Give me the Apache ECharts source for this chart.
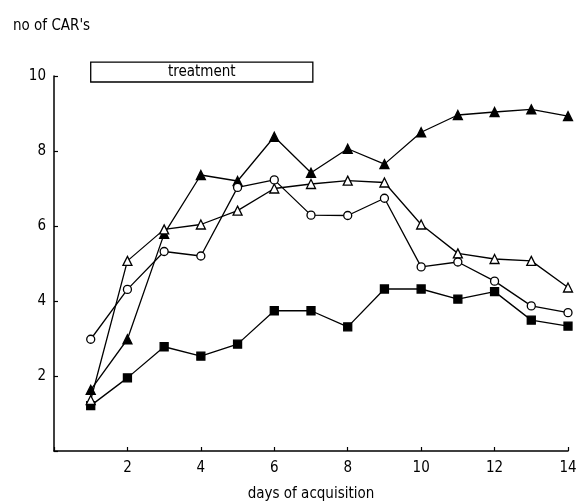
<!DOCTYPE html>
<html>
<head>
<meta charset="utf-8">
<script src="https://cdn.jsdelivr.net/npm/echarts@6/dist/echarts.min.js"></script>
<style>html,body{margin:0;padding:0;background:#fff}#c{width:576px;height:504px}</style>
</head>
<body>
<div id="c"></div>
<script>
const days = [1,2,3,4,5,6,7,8,9,10,11,12,13,14];
const filledTriangle = [1.63,2.98,5.79,7.36,7.2,8.38,7.42,8.06,7.65,8.5,8.96,9.04,9.11,8.93];
const openTriangle   = [1.36,5.07,5.91,6.04,6.41,7.0,7.12,7.21,7.16,6.04,5.27,5.12,5.07,4.36];
const openCircle     = [2.98,4.31,5.32,5.2,7.03,7.23,6.29,6.28,6.74,4.91,5.04,4.53,3.87,3.69];
const filledSquare   = [1.21,1.95,2.78,2.53,2.85,3.74,3.74,3.31,4.32,4.32,4.05,4.25,3.49,3.33];
const xTicks = [2,4,6,8,10,12,14];
const yTicks = [2,4,6,8,10];
const treatmentStart = 1, treatmentEnd = 7.05;
const treatmentTop = 10.37, treatmentBottom = 9.84;

const FONT = '"DejaVu Sans Condensed", "DejaVu Sans", sans-serif';
const pair = arr => days.map((d,i)=>[d,arr[i]]);
const chart = echarts.init(document.getElementById('c'), null, {renderer:'canvas'});

function mk(name, data, symbol, filled, size){
  return {
    name, type:'line', data: pair(data), symbol, symbolSize:size,
    lineStyle:{color:'#000', width:1.3},
    itemStyle:{color: filled ? '#000' : '#fff', borderColor:'#000', borderWidth:1.3},
    z: filled ? 3 : 4,
    animation:false
  };
}

chart.setOption({
  animation:false,
  title:{text:"no of CAR's", left:8, top:14, textStyle:{fontFamily:FONT, fontSize:15, fontWeight:'normal', color:'#000'}},
  grid:{left:54, right:8, top:76, bottom:53, containLabel:false, outerBoundsMode:'none'},
  xAxis:{
    type:'value', min:0, max:14, interval:2,
    name:'days of acquisition', nameLocation:'middle', nameGap:36,
    nameTextStyle:{fontFamily:FONT, fontSize:15, color:'#000'},
    axisLine:{show:true, lineStyle:{color:'#000', width:1.5}},
    axisTick:{show:true, inside:true, length:4, lineStyle:{color:'#000', width:1.2}},
    axisLabel:{fontFamily:FONT, fontSize:15, color:'#000', margin:10,
      formatter: v => xTicks.includes(v) ? String(v) : ''},
    splitLine:{show:false}
  },
  yAxis:{
    type:'value', min:0, max:10, interval:2,
    axisLine:{show:true, lineStyle:{color:'#000', width:1.5}},
    axisTick:{show:true, inside:true, length:4, lineStyle:{color:'#000', width:1.2}},
    axisLabel:{fontFamily:FONT, fontSize:15, color:'#000', margin:8,
      formatter: v => yTicks.includes(v) ? String(v) : ''},
    splitLine:{show:false}
  },
  series:[
    mk('filled triangle', filledTriangle, 'triangle', true, 9),
    mk('open triangle', openTriangle, 'triangle', false, 9),
    mk('open circle', openCircle, 'circle', false, 8),
    mk('filled square', filledSquare, 'rect', true, 8)
  ]
});

const p1 = chart.convertToPixel({gridIndex:0}, [treatmentStart, treatmentTop]);
const p2 = chart.convertToPixel({gridIndex:0}, [treatmentEnd, treatmentBottom]);
chart.setOption({
  graphic:[
    {type:'rect', shape:{x:p1[0], y:p1[1], width:p2[0]-p1[0], height:p2[1]-p1[1]},
     style:{fill:'#fff', stroke:'#000', lineWidth:1.3}, z:10},
    {type:'text', x:(p1[0]+p2[0])/2, y:(p1[1]+p2[1])/2,
     style:{text:'treatment', fill:'#000', font:'15px ' + FONT, align:'center', verticalAlign:'middle'}, z:11}
  ]
});
</script>
</body>
</html>
